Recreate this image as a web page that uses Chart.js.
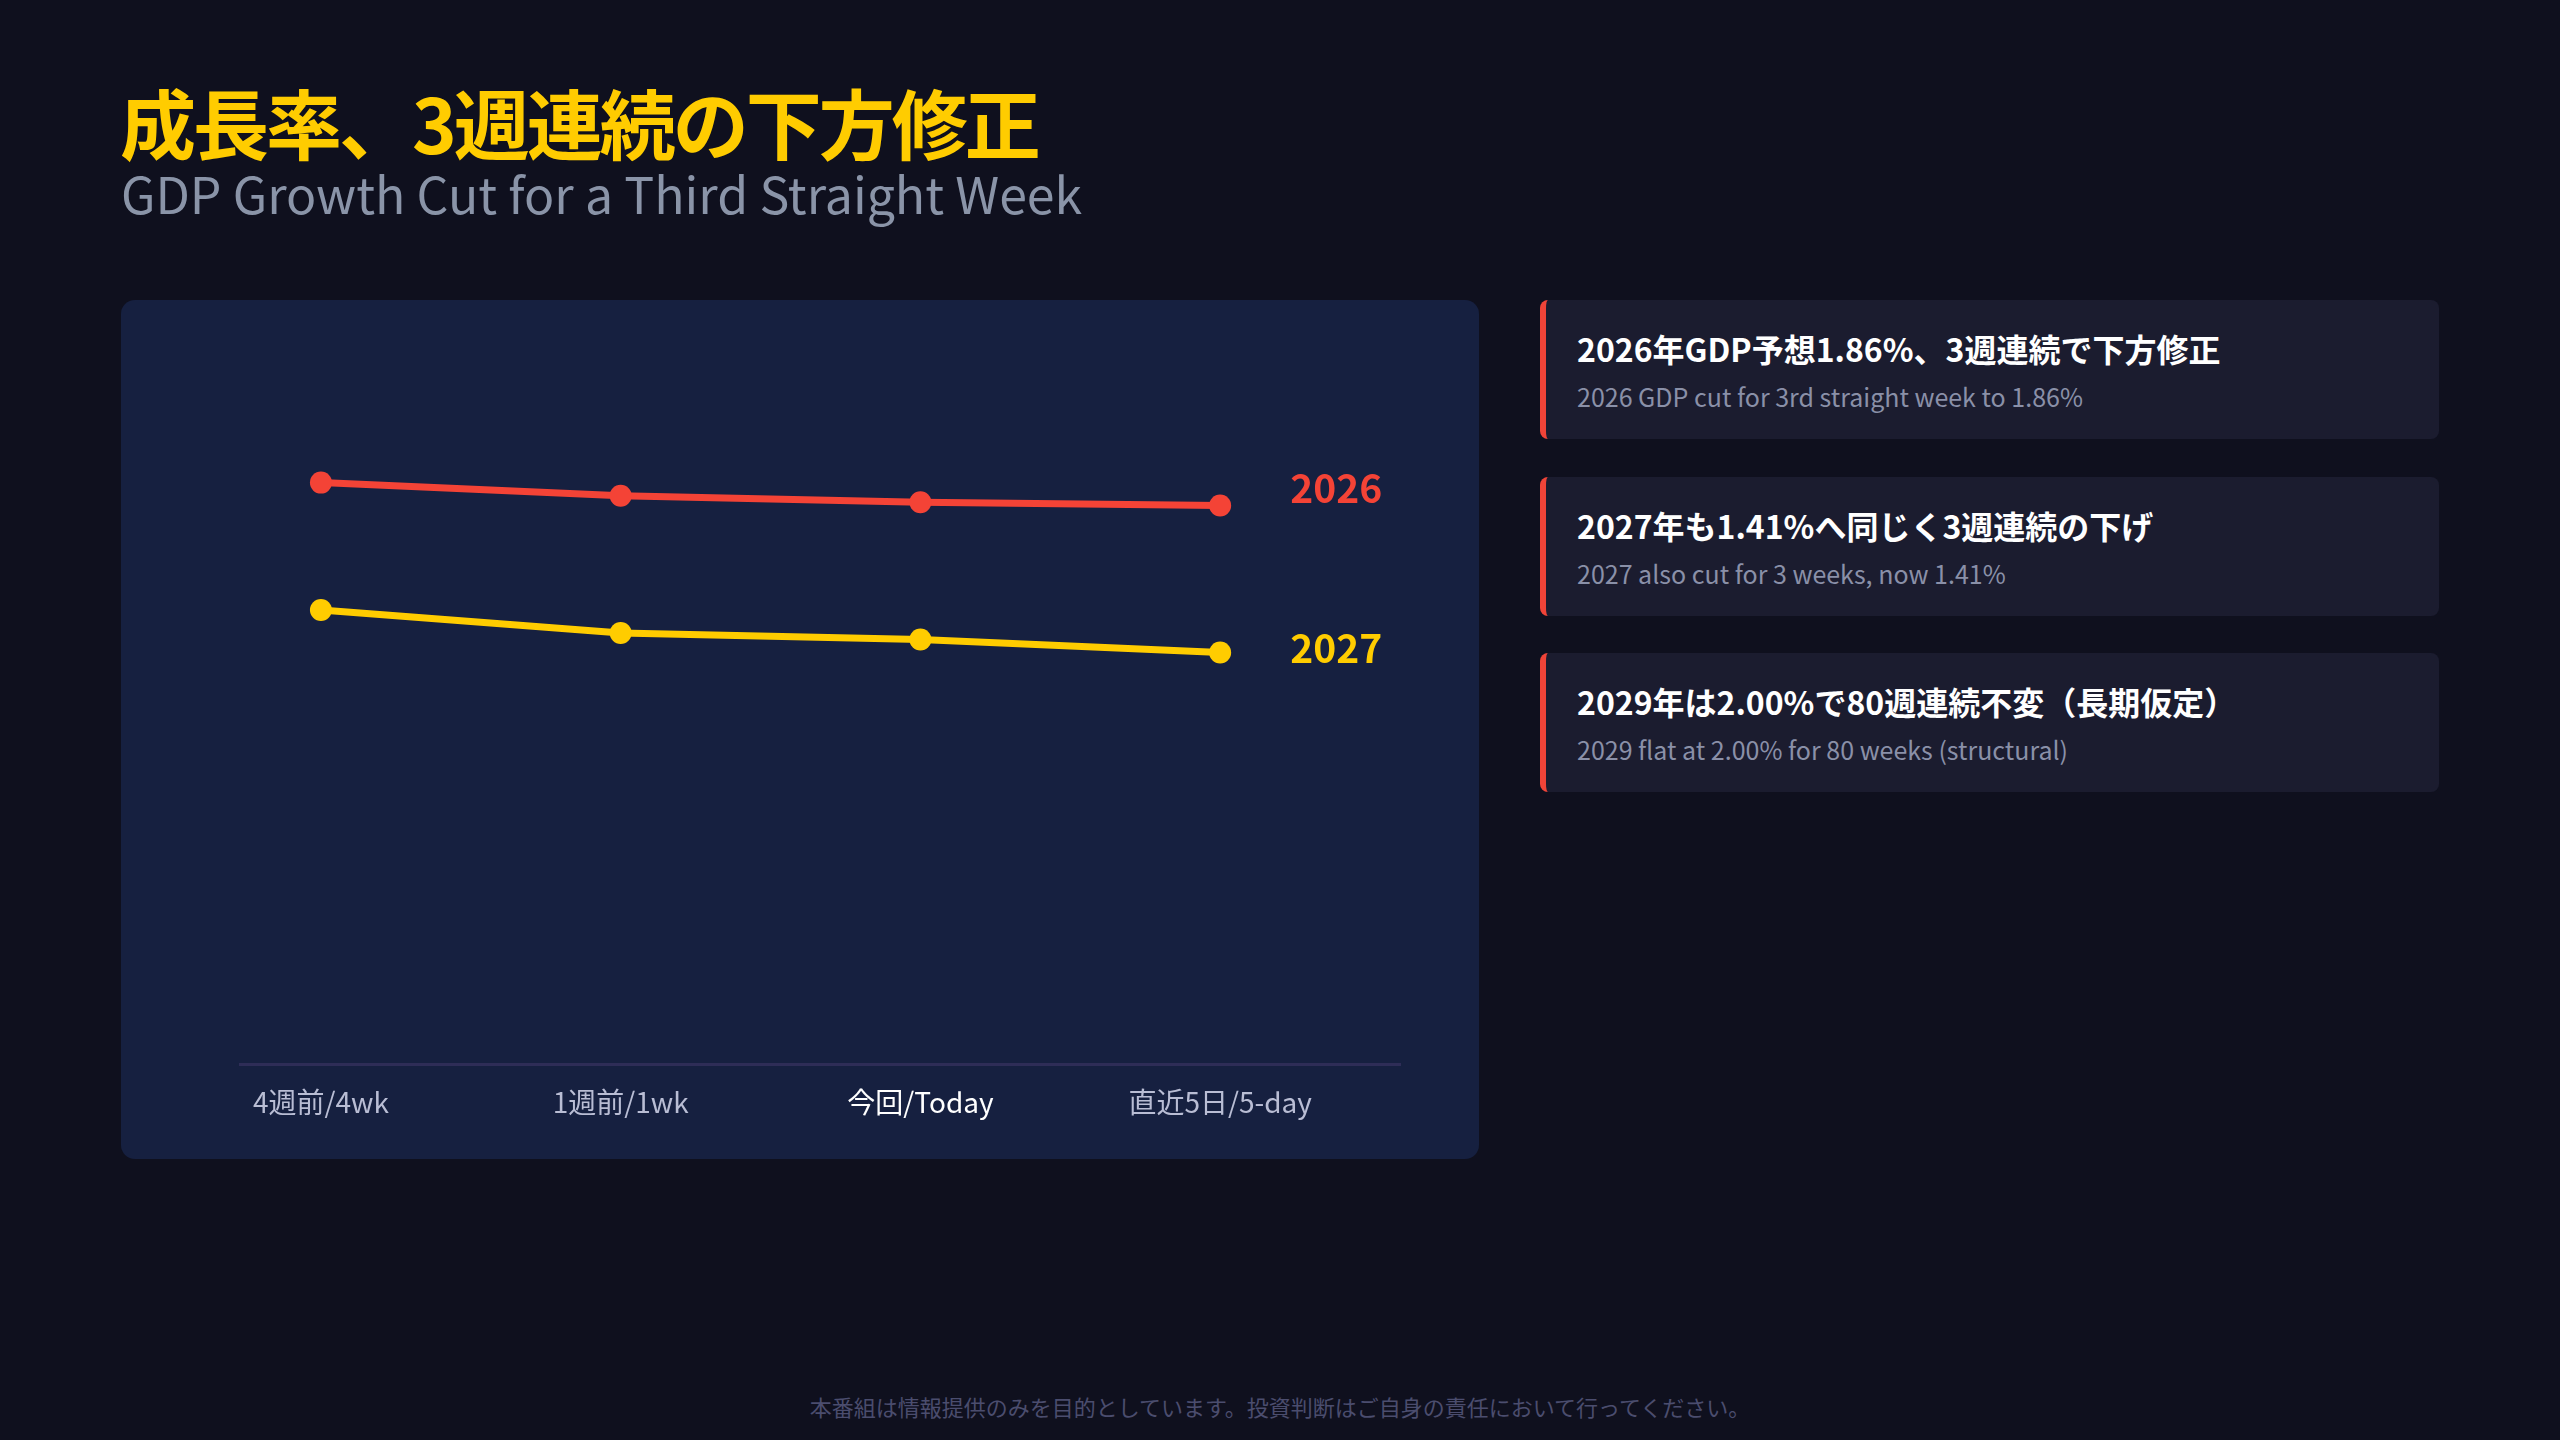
<!DOCTYPE html>
<html lang="ja">
<head>
<meta charset="utf-8">
<script src="https://cdn.jsdelivr.net/npm/chart.js@4"></script>
<style>
  html, body { margin: 0; padding: 0; }
  body {
    width: 2560px; height: 1440px; overflow: hidden; position: relative;
    background: #0f101e;
    font-family: "Noto Sans CJK JP", "Noto Sans", sans-serif;
  }
  .title {
    position: absolute; left: 120px; top: 80px;
    font-size: 76px; font-weight: 700; color: #ffcc00; line-height: 1.1;
    letter-spacing: -3px;
  }
  .subtitle {
    position: absolute; left: 121px; top: 162px;
    font-size: 50px; color: #8a94a8; line-height: 1.2;
  }
  .panel {
    position: absolute; left: 121px; top: 300px; width: 1358px; height: 859px;
    background: #162040; border-radius: 14px;
  }
  .card {
    position: absolute; left: 1540px; width: 899px; height: 139px;
    background: #1b1c2f; border-radius: 8px; border-left: 6px solid #f04438;
    box-sizing: border-box;
  }
  .card .h {
    position: absolute; left: 31px; top: 25px;
    font-size: 32px; font-weight: 700; color: #ffffff; white-space: nowrap;
  }
  .card .s {
    position: absolute; left: 31px; top: 78px;
    font-size: 25px; color: #8a90a8; white-space: nowrap;
  }
  .footer {
    position: absolute; left: 0; width: 2560px; top: 1390px; text-align: center;
    font-size: 22px; color: #4b4d6e;
  }
</style>
</head>
<body>
<div class="title">成長率、3週連続の下方修正</div>
<div class="subtitle">GDP Growth Cut for a Third Straight Week</div>

<div class="panel"><canvas id="gdpChart" width="1358" height="859"></canvas></div>

<div class="card" style="top:300px"><div class="h">2026年GDP予想1.86%、3週連続で下方修正</div><div class="s">2026 GDP cut for 3rd straight week to 1.86%</div></div>
<div class="card" style="top:477px"><div class="h">2027年も1.41%へ同じく3週連続の下げ</div><div class="s">2027 also cut for 3 weeks, now 1.41%</div></div>
<div class="card" style="top:653px"><div class="h">2029年は2.00%で80週連続不変（長期仮定）</div><div class="s">2029 flat at 2.00% for 80 weeks (structural)</div></div>

<div class="footer">本番組は情報提供のみを目的としています。投資判断はご自身の責任において行ってください。</div>

<script>
// data
let xLabels = ['4週前/4wk', '1週前/1wk', '今回/Today', '直近5日/5-day'];
let seriesNames = ['2026', '2027'];
let growth2026 = [1.93, 1.89, 1.87, 1.86];
let growth2027 = [1.54, 1.47, 1.45, 1.41];

let lineColors = ['#f44336', '#ffcc00'];
let labelShift = [-17, -4];

let toPoints = (arr) => arr.map((v, i) => ({ x: i, y: v }));

// series name at the end of each line
let endLabels = {
  id: 'endLabels',
  afterDatasetsDraw(chart) {
    let ctx = chart.ctx;
    ctx.save();
    ctx.font = 'bold 39px "Noto Sans CJK JP", "Noto Sans", sans-serif';
    ctx.textBaseline = 'middle';
    ctx.textAlign = 'left';
    chart.data.datasets.forEach((ds, i) => {
      let pts = chart.getDatasetMeta(i).data;
      let last = pts[pts.length - 1];
      ctx.fillStyle = ds.borderColor;
      ctx.fillText(ds.label, last.x + 70, last.y + labelShift[i]);
    });
    ctx.restore();
  }
};

new Chart(document.getElementById('gdpChart'), {
  type: 'line',
  data: {
    datasets: [
      { label: seriesNames[0], data: toPoints(growth2026) },
      { label: seriesNames[1], data: toPoints(growth2027) }
    ].map((ds, i) => Object.assign(ds, {
      borderColor: lineColors[i],
      backgroundColor: lineColors[i],
      borderWidth: 7,
      pointRadius: 11,
      pointHoverRadius: 11,
      pointBorderWidth: 0,
      tension: 0
    }))
  },
  options: {
    responsive: false,
    animation: false,
    layout: { padding: { left: 119, right: 79, top: 29, bottom: 27 } },
    plugins: { legend: { display: false }, tooltip: { enabled: false } },
    scales: {
      x: {
        type: 'linear',
        min: -0.27,
        max: 3.6,
        afterBuildTicks: (axis) => { axis.ticks = xLabels.map((l, i) => ({ value: i })); },
        grid: { display: false },
        border: { display: true, color: '#2e2d57', width: 3 },
        ticks: {
          padding: 13,
          autoSkip: false,
          maxRotation: 0,
          font: { size: 28, family: '"Noto Sans CJK JP", "Noto Sans", sans-serif' },
          color: (c) => c.index === 2 ? '#ffffff' : '#b9bdd4',
          callback: (v) => xLabels[v]
        }
      },
      y: {
        display: false,
        min: 0.15,
        max: 2.4
      }
    }
  },
  plugins: [endLabels]
});
</script>
</body>
</html>
